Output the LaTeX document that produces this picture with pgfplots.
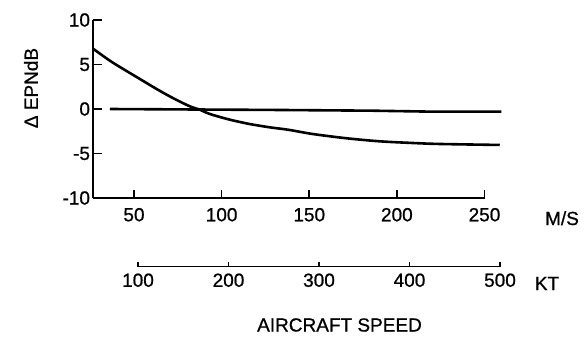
\documentclass[border=0pt]{standalone}
\usepackage{fontspec}
\setmainfont{Liberation Sans}
\newfontfamily\lblfont{Liberation Sans}[FakeBold=0.8]
\usepackage{pgfplots}
\pgfplotsset{compat=1.18}
\newcommand{\lbl}{\lblfont\fontsize{19bp}{22bp}\selectfont}
\begin{document}
\begin{tikzpicture}
\path[use as bounding box] (-93.5bp,-139bp) rectangle (494.5bp,198bp);
\begin{axis}[
  at={(0,0)}, anchor=south west,
  scale only axis, width=391bp, height=178bp,
  xmin=26.9, xmax=250, ymin=-10, ymax=10,
  axis x line=bottom, axis y line=left,
  axis line style={-, line width=2bp},
  clip=false,
  xtick={50,100,150,200,250}, ytick={-10,-5,0,5,10},
  tick align=inside,
  major tick length=8bp,
  tick style={line width=1.6bp, black},
  /pgf/number format/assume math mode=true,
  ticklabel style={font=\lbl},
  xticklabel style={yshift=-6.5bp},
]
\addplot[black, line width=2.6bp, smooth] coordinates {
(26.9,6.74) (36.3,5.42) (43.9,4.49) (53.4,3.37) (62.9,2.25) (72.4,1.21)
(81.9,0.30) (87.6,-0.08) (93.3,-0.56) (104.7,-1.20) (116.1,-1.69)
(127.5,-2.06) (138.0,-2.33) (152.0,-2.81) (171.3,-3.29) (190.2,-3.63)
(209.1,-3.82) (224.5,-3.93) (258.7,-4.04)
};
\addplot[black, line width=2.6bp] coordinates {
(36.3,0) (133.2,-0.11) (186.2,-0.19) (220.4,-0.30) (259.6,-0.30)
};
\end{axis}
\begin{axis}[
  at={(44.5bp,-68.5bp)}, anchor=south west,
  scale only axis, width=362bp, height=10bp,
  xmin=100, xmax=500, ymin=0, ymax=1,
  axis x line=bottom, axis y line=none,
  axis line style={-, line width=1.6bp},
  xtick={100,200,300,400,500},
  tick align=inside, major tick length=5bp,
  tick style={line width=1.2bp, black},
  /pgf/number format/assume math mode=true,
  ticklabel style={font=\lbl},
  xticklabel style={yshift=-3.5bp},
]
\end{axis}
\node[rotate=90, font=\lbl] at (-62.5bp,110bp) {Δ EPNdB};
\node[anchor=base, font=\lbl] at (468.5bp,-27bp) {M/S};
\node[anchor=base, font=\lbl] at (453.5bp,-92bp) {KT};
\node[font=\lbl] at (246bp,-127bp) {AIRCRAFT SPEED};
\end{tikzpicture}
\end{document}
